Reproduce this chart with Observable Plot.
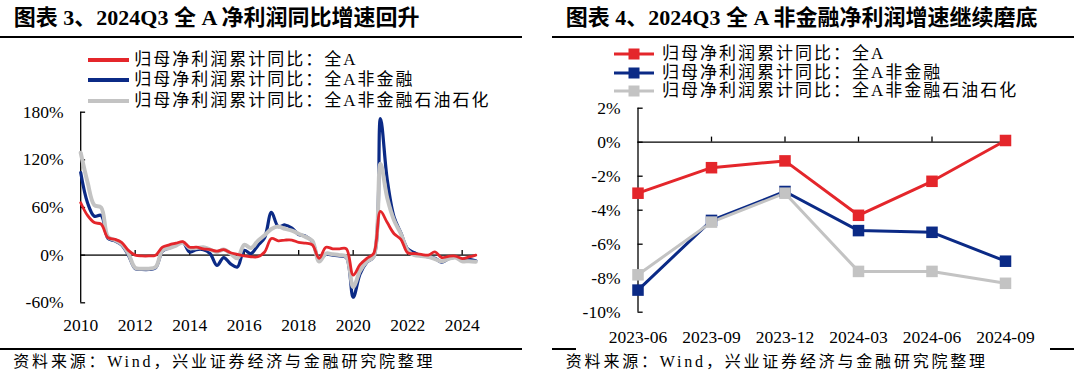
<!DOCTYPE html>
<html><head><meta charset="utf-8">
<script src="https://cdn.jsdelivr.net/npm/d3@7"></script>
<script src="https://cdn.jsdelivr.net/npm/@observablehq/plot@0.6"></script>
<style>
html,body{margin:0;padding:0;background:#fff;}
#root{position:relative;width:1080px;height:386px;overflow:hidden;background:#fff;font-family:"Liberation Serif","Noto Sans CJK SC",serif;color:#000;}
.title{position:absolute;top:5px;font-size:22px;font-weight:bold;line-height:26px;white-space:nowrap;}
.rule{position:absolute;height:2px;background:#000;}
.leg{position:absolute;display:flex;align-items:center;height:20px;white-space:nowrap;}
.leg span{font-size:17px;letter-spacing:2px;line-height:20px;}
.src{position:absolute;font-size:16px;letter-spacing:2.8px;white-space:nowrap;line-height:20px;}
.plot{position:absolute;top:0;}
.plot text{font-family:"Liberation Serif",serif;}
</style></head><body><div id="root"></div>
<script>
// ---------- data ----------
const years = [2010,2011,2012,2013,2014,2015,2016,2017,2018,2019,2020,2021,2022,2023,2024];
const quarterOffsets = [0, 0.25, 0.5, 0.75];
const lastQuarter = 2024.5; // 2024Q3

// 归母净利润累计同比 (%), quarterly 2010Q1 – 2024Q3
const allA = [66, 50, 41, 39, 22, 20, 16, 6,
  0, -1, -1, 0, 10, 13, 15, 17,
  10, 10, 8, 7, 5, 7, 3, 1,
  -1, -2, -2, 4, 21, 18, 19, 19,
  16, 15, 13, -4, 10, 8, 8, 8,
  -25, -12, -4, 2, 55, 41, 27, 20,
  3, 2, 1, 0, 4, -3.0, -1.5, -1.1,
  -4.3, -2.3, 0.1];
const nonFin = [104, 66, 49, 50, 21, 18, 13, 0,
  -17, -18, -18, -16, 5, 9, 13, 16,
  4, 7, 7, 2, -13, -3, -11, -15,
  6, 2, 12, 22, 54, 36, 38, 34,
  26, 24, 17, -5, 1, 0, -1, -3,
  -53, -24, -9, -2, 172, 95, 48, 28,
  8, 3, -1, -2, -4, -8.7, -4.6, -2.9,
  -5.2, -5.3, -7.0];
const nonFinExPetro = [129, 92, 63, 60, 23, 19, 14, 2,
  -16, -17, -17, -15, 6, 9, 12, 16,
  9, 9, 10, 7, 4, 7, 2, -4,
  13, 9, 18, 25, 33, 36, 33, 31,
  27, 23, 18, -8, 2, 1, 0, -2,
  -40, -20, -8, -2, 115, 72, 44, 27,
  6, 0, -1, -2, -5, -7.8, -4.7, -3.0,
  -7.6, -7.6, -8.3];

// right chart
const recentPeriods = ["2023-06","2023-09","2023-12","2024-03","2024-06","2024-09"];
const recentAllA = [-3.0, -1.5, -1.1, -4.3, -2.3, 0.1];
const recentNonFin = [-8.7, -4.6, -2.9, -5.2, -5.3, -7.0];
const recentNonFinExPetro = [-7.8, -4.7, -3.0, -7.6, -7.6, -8.3];

// axis ticks
const leftXTicks = [2010,2012,2014,2016,2018,2020,2022,2024];
const leftYTicks = [-60, 0, 60, 120, 180];
const rightYTicks = [-10, -8, -6, -4, -2, 0, 2];

const seriesNames = ["归母净利润累计同比：全A", "归母净利润累计同比：全A非金融", "归母净利润累计同比：全A非金融石油石化"];
const colors = ["#E4262B", "#0B2A86", "#C3C3C3"];

// ---------- build tables ----------
const quarterX = [];
years.forEach(y => quarterOffsets.forEach(q => { if (y + q <= lastQuarter) quarterX.push(y + q); }));
const leftSeries = [allA, nonFin, nonFinExPetro];
const leftRows = leftSeries.map((vals, s) => vals.map((v, i) => ({x: quarterX[i], y: v, s})));
const rightSeries = [recentAllA, recentNonFin, recentNonFinExPetro];
const periodIndex = recentPeriods.map((p, i) => i);
const rightRows = rightSeries.map((vals, s) => vals.map((v, i) => ({x: periodIndex[i], y: v, s})));
const lastIndex = periodIndex[periodIndex.length - 1];

const root = document.getElementById("root");
const plotStyle = {fontFamily: '"Liberation Serif", serif', fontSize: "17.5px", color: "#000", background: "transparent", overflow: "visible"};

// ---------- left chart ----------
const drawOrder = [1, 2, 0];
const leftWidths = [2.8, 3.2, 4];
const left = Plot.plot({
  width: 540, height: 386,
  marginLeft: 80, marginRight: 65, marginTop: 112, marginBottom: 84,
  style: plotStyle,
  x: {domain: [2010, lastQuarter], range: [80.2, 475.3], label: null},
  y: {domain: [-60, 180], range: [302.3, 111.7], label: null},
  marks: [
    Plot.ruleY([0], {x1: 2010, x2: lastQuarter, stroke: "#444", strokeWidth: 1.6}),
    Plot.ruleX(leftXTicks.slice(1), {y1: 0, y2: 6, stroke: "#000", strokeWidth: 1.3}),
    Plot.ruleX([2010], {y1: -60, y2: 180, stroke: "#000", strokeWidth: 1.3}),
    Plot.ruleY(leftYTicks, {y: d => d, x1: 2010, x2: 2010.18, stroke: "#000", strokeWidth: 1.3}),
    ...drawOrder.map(s => Plot.line(leftRows[s], {x: "x", y: "y", stroke: colors[s], strokeWidth: leftWidths[s], curve: "catmull-rom", strokeLinejoin: "round"})),
    Plot.axisX({ticks: leftXTicks, tickFormat: d => String(d), tickSize: 0, tickPadding: 16}),
    Plot.axisY({ticks: leftYTicks, tickFormat: d => d + "%", tickSize: 0, tickPadding: 17})
  ]
});
left.classList.add("plot");
left.style.left = "0px";
root.appendChild(left);

// ---------- right chart ----------
const right = Plot.plot({
  width: 540, height: 386,
  marginLeft: 97, marginRight: 75, marginTop: 108, marginBottom: 74,
  style: plotStyle,
  x: {domain: [0, lastIndex], range: [97.5, 465], label: null},
  y: {domain: [-10, 2], range: [311.7, 107.7], label: null},
  marks: [
    Plot.ruleY([0], {x1: 0, x2: lastIndex, stroke: "#000", strokeWidth: 1.3}),
    Plot.ruleX(periodIndex.slice(1), {y1: 0, y2: 0.3, stroke: "#000", strokeWidth: 1.3}),
    Plot.ruleX([0], {y1: -10, y2: 2, stroke: "#000", strokeWidth: 1.3}),
    Plot.ruleY(rightYTicks, {y: d => d, x1: 0, x2: 0.07, stroke: "#000", strokeWidth: 1.3}),
    ...drawOrder.map(s => Plot.line(rightRows[s], {x: "x", y: "y", stroke: colors[s], strokeWidth: 3})),
    ...drawOrder.map(s => Plot.dot(rightRows[s], {x: "x", y: "y", fill: colors[s], symbol: "square", r: 6.5})),
    Plot.axisX({ticks: periodIndex, tickFormat: i => recentPeriods[i], tickSize: 0, tickPadding: 18}),
    Plot.axisY({ticks: rightYTicks, tickFormat: d => d + "%", tickSize: 0, tickPadding: 17})
  ]
});
right.classList.add("plot");
right.style.left = "540px";
root.appendChild(right);

// ---------- titles, rules, legends, sources ----------
function addDiv(cls, css, html) {
  const d = document.createElement("div");
  d.className = cls;
  Object.assign(d.style, css);
  if (html != null) d.innerHTML = html;
  root.appendChild(d);
  return d;
}
addDiv("title", {left: "13.8px"}, "图表 3、2024Q3 全 A 净利润同比增速回升");
addDiv("title", {left: "565.8px"}, "图表 4、2024Q3 全 A 非金融净利润增速继续磨底");
addDiv("rule", {left: "0px", width: "522px", top: "36.3px"});
addDiv("rule", {left: "552px", width: "522px", top: "36.3px"});
addDiv("rule", {left: "0px", width: "522px", top: "348px"});
addDiv("rule", {left: "552px", width: "24px", top: "348px"});
addDiv("rule", {left: "1050px", width: "24px", top: "348px"});

const leftLegY = [59.5, 80, 100.5];
const rightLegY = [54.3, 72.7, 90.9];
seriesNames.forEach((name, s) => {
  addDiv("leg", {left: "87.8px", top: (leftLegY[s] - 10) + "px"},
    `<svg width="41.2" height="20"><line x1="0" x2="41.2" y1="10" y2="10" stroke="${colors[s]}" stroke-width="4"/></svg><span style="margin-left:5.3px">${name}</span>`);
  addDiv("leg", {left: "614px", top: (rightLegY[s] - 10) + "px"},
    `<svg width="40" height="20"><line x1="0" x2="40" y1="10" y2="10" stroke="${colors[s]}" stroke-width="3"/><rect x="14.5" y="4.5" width="11" height="11" fill="${colors[s]}"/></svg><span style="margin-left:8px">${name}</span>`);
});
const sourceText = "资料来源：Wind，兴业证券经济与金融研究院整理";
addDiv("src", {left: "13.3px", top: "352px"}, sourceText);
addDiv("src", {left: "565.8px", top: "352px"}, sourceText);
</script></body></html>
